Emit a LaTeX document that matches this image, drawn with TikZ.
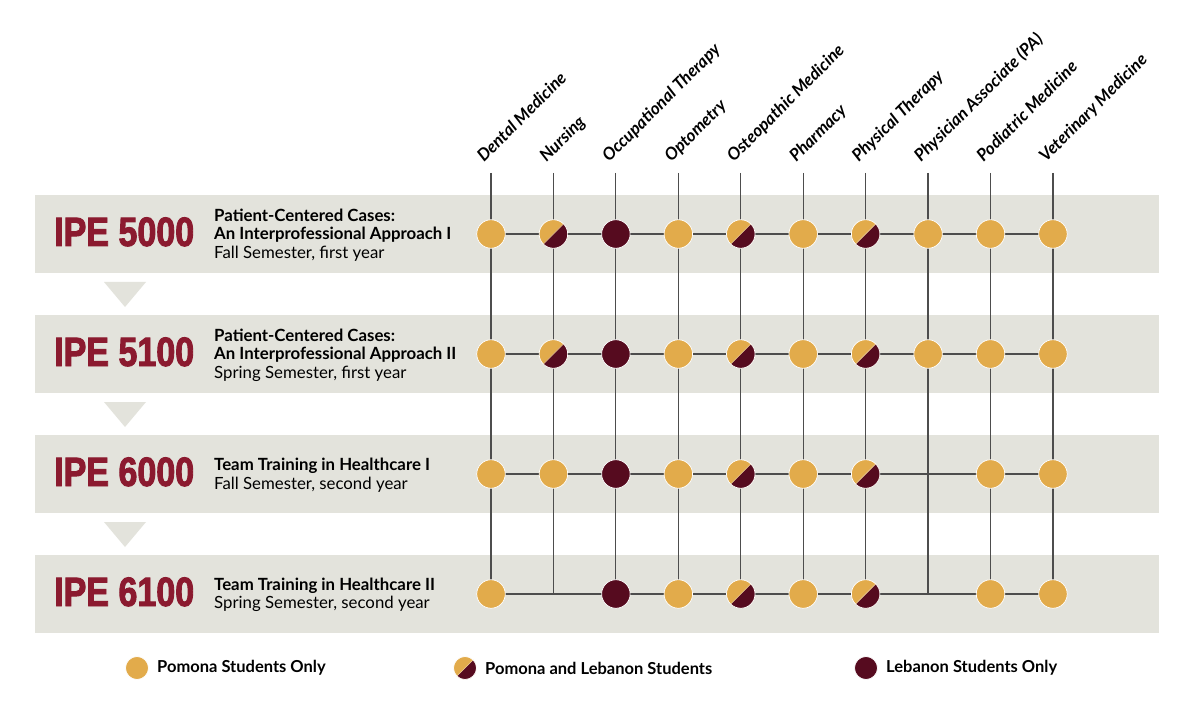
\documentclass[tikz,border=0pt]{standalone}
\usepackage{fontspec}
\setmainfont{Lato}
\newfontfamily\ipefont{Liberation Sans}[FakeStretch=0.83,FakeBold=2.2]
\definecolor{pomona}{HTML}{E2AB4B}
\definecolor{lebanon}{HTML}{560B1F}
\definecolor{ipered}{HTML}{8B1A2F}
\definecolor{band}{HTML}{E3E3DC}
\definecolor{gridline}{HTML}{4D4D4D}
\tikzset{
  dot/.style={circle,minimum size=28.5pt,inner sep=0pt,draw=white,line width=0.7pt},
  pom/.style={dot,fill=pomona},
  leb/.style={dot,fill=lebanon},
  mix/.style={dot,fill=pomona,path picture={
    \fill[lebanon] (path picture bounding box.north east) -- (path picture bounding box.south west)
      -- (path picture bounding box.south east) -- cycle;
    \draw[pomona!55!white,line width=0.6pt] (path picture bounding box.north east)
      -- (path picture bounding box.south west);}},
  keydot/.style={minimum size=23pt},
  vline/.style={gridline,line width=1.2pt},
  hline/.style={gridline,line width=1.7pt},
  ipe/.style={anchor=base west,inner sep=0pt,text=ipered,font=\ipefont\bfseries\fontsize{41}{40}\selectfont},
  course/.style={anchor=west,inner sep=0pt,align=left,font=\fontsize{16.8}{18.5}\selectfont},
  discipline/.style={anchor=base west,inner sep=0pt,rotate=45,font=\bfseries\itshape\fontsize{17}{18}\selectfont},
  keytext/.style={anchor=west,inner sep=0pt,font=\bfseries\fontsize{16.5}{18}\selectfont}
}
\begin{document}
\begin{tikzpicture}[x=1pt,y=-1pt]
\useasboundingbox[fill=white] (0,0) rectangle (1200,714);
\foreach \y in {195,315,435,555}
  \fill[band] (35,\y) rectangle (1159,\y+78);
\foreach \y in {282,402,522}
  \fill[band] (104,\y) -- (146,\y) -- (125,\y+25) -- cycle;

\foreach \name [count=\i] in {Dental Medicine,Nursing,Occupational Therapy,Optometry,
    Osteopathic Medicine,Pharmacy,Physical Therapy,Physician Associate (PA),
    Podiatric Medicine,Veterinary Medicine}{
  \pgfmathsetmacro\x{428.56+62.44*\i}
  \coordinate (top\i) at (\x,173);
  \foreach \r/\y in {1/234,2/354,3/474,4/594}
    \coordinate (g\i-\r) at (\x,\y);
  \node[discipline] (lab\i) at (\x-7,163) {\name};
}
\foreach \i in {1,...,10}
  \draw[vline] (top\i) -- (g\i-4);
\foreach \r in {1,...,4}
  \draw[hline] (g1-\r) -- (g10-\r);

\def\nodot{none}
\foreach \r/\kinds in {1/{pom,mix,leb,pom,mix,pom,mix,pom,pom,pom},
    2/{pom,mix,leb,pom,mix,pom,mix,pom,pom,pom},
    3/{pom,pom,leb,pom,mix,pom,mix,none,pom,pom},
    4/{pom,none,leb,pom,mix,pom,mix,none,pom,pom}}{
  \foreach \k [count=\i] in \kinds {
    \edef\kind{\k}
    \ifx\kind\nodot\else
      \node[\kind] (d\i-\r) at (g\i-\r) {};
    \fi
  }
}

\node[ipe] (ipe1) at (54,246) {IPE 5000};
\node[ipe] (ipe2) at (54,366) {IPE 5100};
\node[ipe] (ipe3) at (54,486) {IPE 6000};
\node[ipe] (ipe4) at (54,606) {IPE 6100};
\node[course] (c1) at (214,235) {\textbf{Patient-Centered Cases:}\\\textbf{An Interprofessional Approach I}\\Fall Semester, first year};
\node[course] (c2) at (214,355) {\textbf{Patient-Centered Cases:}\\\textbf{An Interprofessional Approach II}\\Spring Semester, first year};
\node[course] (c3) at (214,475) {\textbf{Team Training in Healthcare I}\\Fall Semester, second year};
\node[course] (c4) at (214,595) {\textbf{Team Training in Healthcare II}\\Spring Semester, second year};

\node[pom,keydot] (k1) at (137,668) {};
\node[keytext] (t1) at (157,668) {Pomona Students Only};
\node[mix,keydot] (k2) at (465,668) {};
\node[keytext] (t2) at (485,668) {Pomona and Lebanon Students};
\node[leb,keydot] (k3) at (866,668) {};
\node[keytext] (t3) at (886,668) {Lebanon Students Only};
\end{tikzpicture}
\end{document}
